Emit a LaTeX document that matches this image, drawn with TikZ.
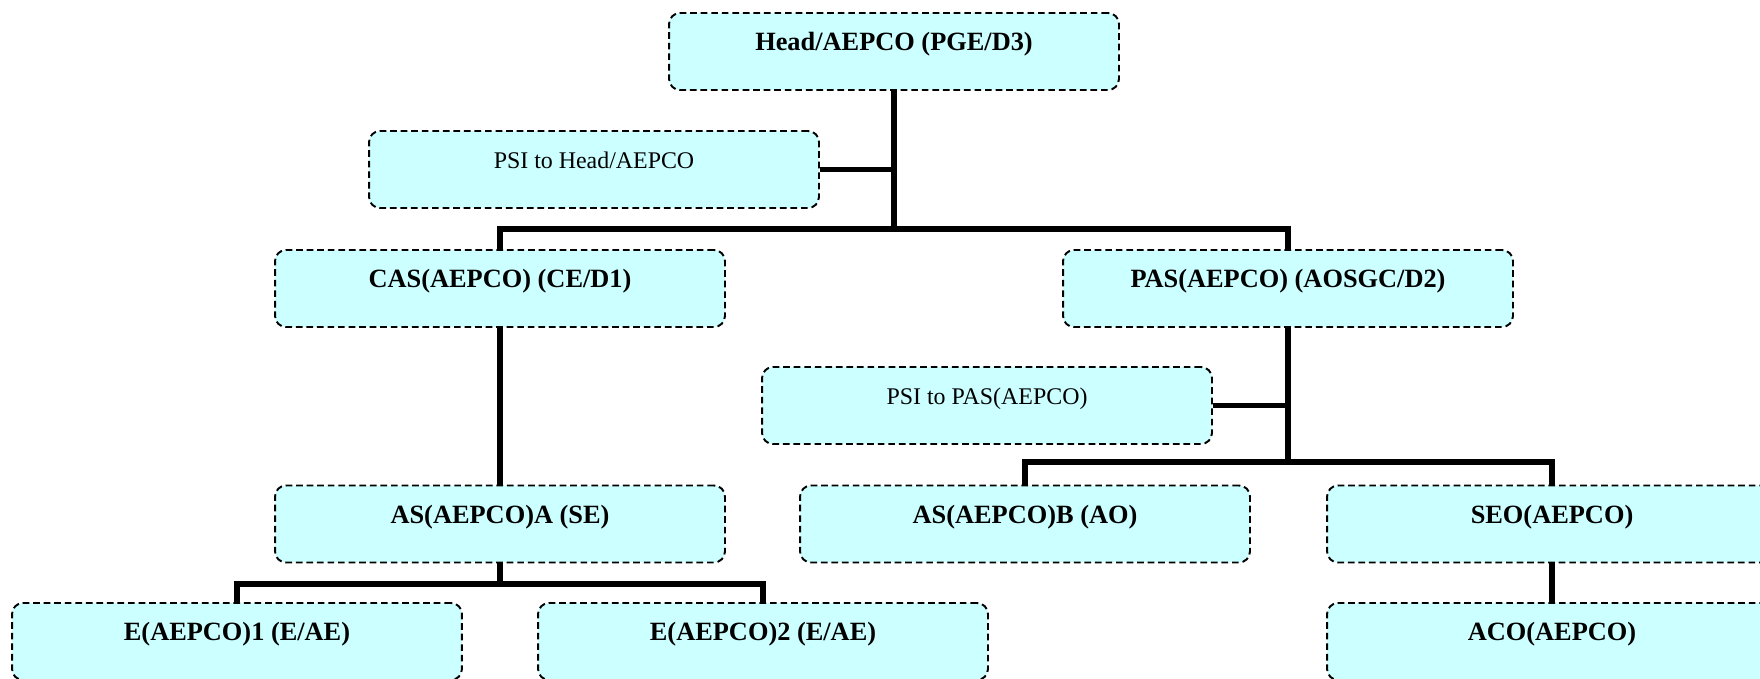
\documentclass[tikz,border=0pt]{standalone}
\usepackage{fontspec}
\setmainfont{Liberation Serif}
\definecolor{boxcyan}{HTML}{CCFFFF}

\begin{document}
\begin{tikzpicture}[x=0.02cm, y=-0.02cm,
    unit/.style={draw=black, line width=1.1pt, dash pattern=on 3.8pt off 2.2pt,
      rounded corners=0.22cm, fill=boxcyan, inner sep=0pt,
      minimum width=9cm, minimum height=1.54cm,
      text height=0.4cm, text depth=0.43cm,
      font=\fontsize{15}{18}\selectfont\bfseries},
    psi/.style={unit, font=\fontsize{13.6}{16}\selectfont},
    link/.style={line width=3.3pt}]
  \useasboundingbox (0,0) rectangle (1760,679);

  \node[unit] (head) at (894,51.5) {Head/AEPCO (PGE/D3)};
  \node[psi] (psihead) at (594,169.5) {PSI to Head/AEPCO};
  \node[unit] (cas) at (500,288.5) {CAS(AEPCO) (CE/D1)};
  \node[unit] (pas) at (1288,288.5) {PAS(AEPCO) (AOSGC/D2)};
  \node[psi] (psipas) at (987,405.5) {PSI to PAS(AEPCO)};
  \node[unit] (asa) at (500,524) {AS(AEPCO)A (SE)};
  \node[unit] (asb) at (1025,524) {AS(AEPCO)B (AO)};
  \node[unit] (seo) at (1552,524) {SEO(AEPCO)};
  \node[unit] (e1) at (237,641.5) {E(AEPCO)1 (E/AE)};
  \node[unit] (e2) at (763,641.5) {E(AEPCO)2 (E/AE)};
  \node[unit] (aco) at (1552,641.5) {ACO(AEPCO)};

  \coordinate (topbar) at (894,229);
  \coordinate (pasbar) at (1288,462);
  \coordinate (asabar) at (500,584);

  % head and its two units
  \draw[link] (head.south) -- (head.south |- topbar);
  \draw[link] (psihead.east) -- (psihead.east -| head.south);
  \draw[link] (cas.north) |- (topbar) -| (pas.north);

  % left branch
  \draw[link] (cas.south) -- (asa.north);
  \draw[link] (asa.south) -- (asa.south |- asabar);
  \draw[link] (e1.north) |- (asabar) -| (e2.north);

  % right branch
  \draw[link] (pas.south) -- (pas.south |- pasbar);
  \draw[link] (psipas.east) -- (psipas.east -| pas.south);
  \draw[link] (asb.north) |- (pasbar) -| (seo.north);
  \draw[link] (seo.south) -- (aco.north);
\end{tikzpicture}
\end{document}
